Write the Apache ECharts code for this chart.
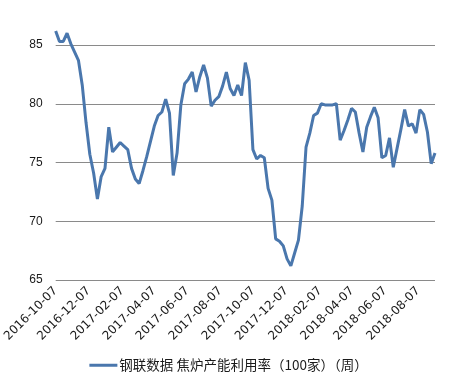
<!DOCTYPE html>
<html>
<head>
<meta charset="utf-8">
<script src="https://cdn.jsdelivr.net/npm/echarts@6/dist/echarts.min.js"></script>
<style>html,body{margin:0;padding:0;background:#fff;}#c{width:457px;height:382px;}</style>
</head>
<body>
<div id="c"></div>
<script>
var seriesName = '钢联数据 焦炉产能利用率（100家）（周）';
var dates = [
'2016-10-07','2016-10-14','2016-10-21','2016-10-28','2016-11-04','2016-11-11','2016-11-18','2016-11-25',
'2016-12-02','2016-12-09','2016-12-16','2016-12-23','2016-12-30',
'2017-01-06','2017-01-13','2017-01-20','2017-01-27','2017-02-03','2017-02-10','2017-02-17','2017-02-24',
'2017-03-03','2017-03-10','2017-03-17','2017-03-24','2017-03-31','2017-04-07','2017-04-14','2017-04-21','2017-04-28',
'2017-05-05','2017-05-12','2017-05-19','2017-05-26','2017-06-02','2017-06-09','2017-06-16','2017-06-23','2017-06-30',
'2017-07-07','2017-07-14','2017-07-21','2017-07-28','2017-08-04','2017-08-11','2017-08-18','2017-08-25',
'2017-09-01','2017-09-08','2017-09-15','2017-09-22','2017-09-29','2017-10-06','2017-10-13','2017-10-20','2017-10-27',
'2017-11-03','2017-11-10','2017-11-17','2017-11-24','2017-12-01','2017-12-08','2017-12-15','2017-12-22','2017-12-29',
'2018-01-05','2018-01-12','2018-01-19','2018-01-26','2018-02-02','2018-02-09','2018-02-16','2018-02-23',
'2018-03-02','2018-03-09','2018-03-16','2018-03-23','2018-03-30','2018-04-06','2018-04-13','2018-04-20','2018-04-27',
'2018-05-04','2018-05-11','2018-05-18','2018-05-25','2018-06-01','2018-06-08','2018-06-15','2018-06-22','2018-06-29',
'2018-07-06','2018-07-13','2018-07-20','2018-07-27','2018-08-03','2018-08-10','2018-08-17','2018-08-24','2018-08-31',
'2018-09-07'
];
var values = [
86.2,85.3,85.3,86.0,85.1,84.4,83.7,81.6,78.4,75.7,74.1,71.9,73.8,
74.5,78.0,75.9,76.3,76.7,76.4,76.1,74.5,73.6,73.2,74.3,75.5,76.8,78.1,79.0,79.3,
80.4,79.2,73.9,75.8,79.9,81.7,82.1,82.7,81.0,82.3,83.3,82.2,79.8,80.3,80.6,81.5,
82.7,81.3,80.7,81.6,80.7,83.5,82.0,76.1,75.3,75.6,75.4,72.8,71.8,68.5,68.3,67.9,
66.8,66.2,67.3,68.4,71.3,76.3,77.5,79.0,79.2,80.0,79.9,79.9,79.9,80.0,76.9,77.7,
78.6,79.6,79.3,77.5,75.9,78.0,78.9,79.7,78.8,75.4,75.6,77.1,74.6,76.2,77.8,79.5,
78.1,78.3,77.5,79.5,79.1,77.6,74.9,75.8
];
var xTickLabels = ['2016-10-07','2016-12-07','2017-02-07','2017-04-07','2017-06-07','2017-08-07',
'2017-10-07','2017-12-07','2018-02-07','2018-04-07','2018-06-07','2018-08-07'];

function ts(s){var p=s.split('-');return Date.UTC(+p[0],+p[1]-1,+p[2]);}
var labelMap = {};
xTickLabels.forEach(function(s){labelMap[ts(s)] = s;});
var data = dates.map(function(d,i){return [ts(d), values[i]];});

var chart = echarts.init(document.getElementById('c'));
chart.setOption({
  animation:false,
  backgroundColor:'#ffffff',
  grid:{left:52, top:45, width:383, height:235, containLabel:false},
  xAxis:{
    type:'value',
    min: ts(dates[0]), max: ts(dates[dates.length-1]),
    axisLine:{show:false}, axisTick:{show:false}, splitLine:{show:false},
    axisLabel:{
      customValues: xTickLabels.map(ts),
      rotate:45, margin:9, color:'#1a1a1a', fontSize:12, fontFamily:'DejaVu Sans, sans-serif',
      formatter:function(v){return labelMap[v] || '';},
      hideOverlap:false
    }
  },
  yAxis:{
    type:'value', min:65, max:85, interval:5,
    axisLine:{show:false}, axisTick:{show:false},
    splitLine:{lineStyle:{color:'#8a8a8a', width:1}},
    axisLabel:{color:'#1a1a1a', fontSize:12, margin:13, fontFamily:'Liberation Sans, Arial, sans-serif'}
  },
  legend:{
    data:[seriesName], bottom:5, left:'center',
    icon:'rect', itemWidth:28, itemHeight:3, itemGap:10,
    textStyle:{color:'#1a1a1a', fontSize:13.5, fontFamily:'Noto Sans CJK SC, sans-serif', padding:[0,0,0,-3]}
  },
  series:[{
    name:seriesName, type:'line', data:data, symbol:'none', clip:false,
    lineStyle:{color:'#4a77ad', width:3}, itemStyle:{color:'#4a77ad'}
  }]
});
</script>
</body>
</html>
